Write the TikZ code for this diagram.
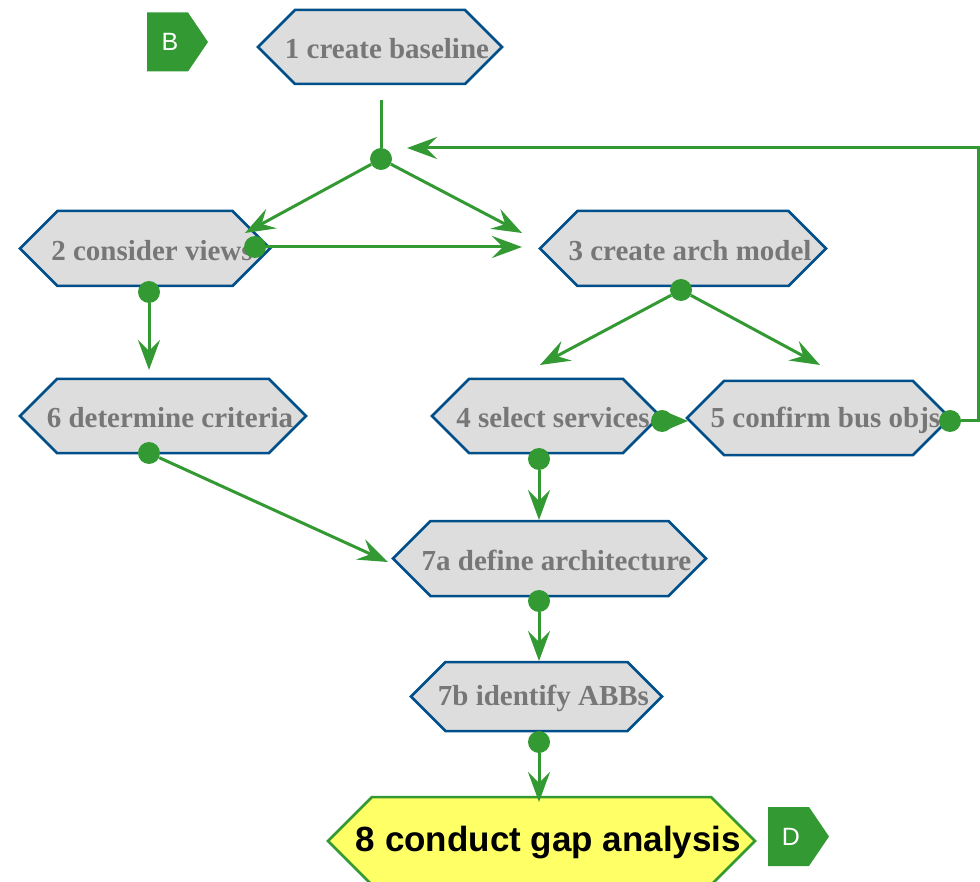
\documentclass[tikz,border=0pt]{standalone}
\usepackage{fontspec}
\setmainfont{Liberation Serif}
\setsansfont{Liberation Sans}
\usetikzlibrary{arrows.meta,calc}
\definecolor{flowgreen}{HTML}{339933}
\definecolor{hexblue}{HTML}{004F8A}
\definecolor{hexfill}{HTML}{DDDDDD}
\definecolor{hextextc}{HTML}{777777}
\definecolor{goldfill}{HTML}{FFFF66}
\tikzset{
 hexshape/.style={draw=hexblue, fill=hexfill, line width=2.5pt, line join=miter},
 hextext/.style={text=hextextc, font=\bfseries\fontsize{29}{29}\selectfont, inner sep=0pt},
 goldshape/.style={draw=flowgreen, fill=goldfill, line width=2.5pt, line join=miter},
 goldtext/.style={text=black, font=\sffamily\bfseries\fontsize{35}{35}\selectfont, inner sep=0pt},
 flow/.style={draw=flowgreen, line width=3pt, line join=miter},
 flowarrow/.style={flow, -{Stealth[length=30pt,width=22pt,inset=11pt]}},
 dot/.style={circle, fill=flowgreen, inner sep=0pt, minimum size=22pt},
 tagshape/.style={fill=flowgreen},
 tagtext/.style={text=white, font=\sffamily\fontsize{25}{25}\selectfont, inner sep=0pt}
}
\newcommand\hexnode[7]{%
 \path[#1shape] (#3-#5,#4) -- (#3-#5+#6,#4-#6) -- (#3+#5-#6,#4-#6) -- (#3+#5,#4) -- (#3+#5-#6,#4+#6) -- (#3-#5+#6,#4+#6) -- cycle;
 \node[#1text, minimum width={2*#5pt}, minimum height={2*#6pt}] (#2) at (#3,#4+2) {\hspace*{14pt}#7};
}
\newcommand\tagnode[4]{%
 \path[tagshape] (#2,#3-29.5) -- (#2+41,#3-29.5) -- (#2+61,#3) -- (#2+41,#3+29.5) -- (#2,#3+29.5) -- cycle;
 \node[tagtext] (#1) at (#2+23,#3) {#4};
}
\begin{document}
\begin{tikzpicture}[x=1pt,y=-1pt]
\useasboundingbox (0,0) rectangle (980,882);
\tagnode{tagB}{147}{42}{B}
\hexnode{hex}{n1}{380}{47}{122}{37}{1 create baseline}
\hexnode{hex}{n2}{145}{248.5}{125}{37.5}{2 consider views}
\hexnode{hex}{n3}{683}{248.5}{143}{37.5}{3 create arch model}
\hexnode{hex}{n4}{546}{416}{114}{37}{4 select services}
\hexnode{hex}{n5}{818.5}{418}{131.5}{37}{5 confirm bus objs}
\hexnode{hex}{n6}{163}{416}{143}{37}{6 determine criteria}
\hexnode{hex}{n7a}{549.5}{558.5}{156.5}{37.5}{7a define architecture}
\hexnode{hex}{n7b}{536.5}{696.5}{125.5}{34.5}{7b identify ABBs}
\hexnode{gold}{n8}{541.5}{841}{213.5}{44}{8 conduct gap analysis}
\tagnode{tagD}{768}{836.5}{D}
% junction dots
\node[dot] (j1) at (381,159) {};
\node[dot] (d2r) at (255,247) {};
\node[dot] (d2b) at (149,292) {};
\node[dot] (d3b) at (681,290) {};
\node[dot] (d4r) at (662,421) {};
\node[dot] (d4b) at (539,459) {};
\node[dot] (d5r) at (950,421) {};
\node[dot] (d6b) at (149,453) {};
\node[dot] (d7ab) at (539,601) {};
\node[dot] (d7bb) at (539,742) {};
% free ends
\coordinate (s1) at (381,100);
\coordinate (t2) at (245,233);
\coordinate (t3a) at (522,233);
\coordinate (t3b) at (522,247);
\coordinate (fbA) at (978,421);
\coordinate (fbB) at (978,148);
\coordinate (tj) at (407,148);
\coordinate (t6) at (149,370);
\coordinate (t4) at (540,365);
\coordinate (t5) at (820,365);
\coordinate (t45) at (688,421);
\coordinate (t7a) at (539,520);
\coordinate (t7a2) at (388,562);
\coordinate (t7b) at (539,661);
\coordinate (t8) at (539,802);
% connectors
\draw[flow] (s1) -- (j1);
\draw[flowarrow] (j1) -- (t2);
\draw[flowarrow] (j1) -- (t3a);
\draw[flowarrow] (d2r) -- (t3b);
\draw[flowarrow] (d2b) -- (t6);
\draw[flowarrow] (d3b) -- (t4);
\draw[flowarrow] (d3b) -- (t5);
\draw[flow, -{Triangle[length=26pt,width=21pt]}] (d4r) -- (t45);
\draw[flowarrow] (d4b) -- (t7a);
\draw[flowarrow] (d6b) -- (t7a2);
\draw[flowarrow] (d7ab) -- (t7b);
\draw[flowarrow] (d7bb) -- (t8);
\draw[flowarrow] (d5r) -- (fbA) -- (fbB) -- (tj);
\end{tikzpicture}
\end{document}
